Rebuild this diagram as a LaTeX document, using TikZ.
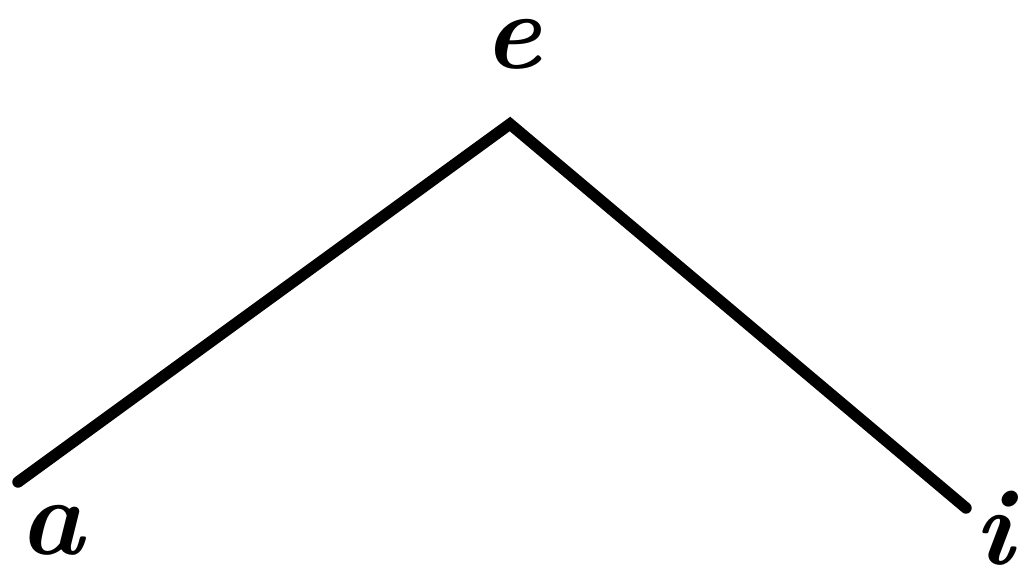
\documentclass[tikz,border=0pt]{standalone}
\usepackage{tikz}
\usetikzlibrary{positioning}

\begin{document}
\begin{tikzpicture}[x=0.02cm,y=-0.02cm,
  vowel/.style={font=\fontsize{62}{62}\selectfont\bfseries\itshape,inner sep=0pt}]
\useasboundingbox (0,0) rectangle (1032,577);
\coordinate (pa) at (18,482);
\coordinate (pe) at (510,124);
\coordinate (pi) at (966,508);
\draw[line width=6.5pt,line join=miter,line cap=round] (pa) -- (pe) -- (pi);
\node[vowel] (e) at (512,44) {e};
\node[vowel] (a) at (52,530) {a};
\node[vowel] (i) at (994,528) {i};
\end{tikzpicture}
\end{document}
